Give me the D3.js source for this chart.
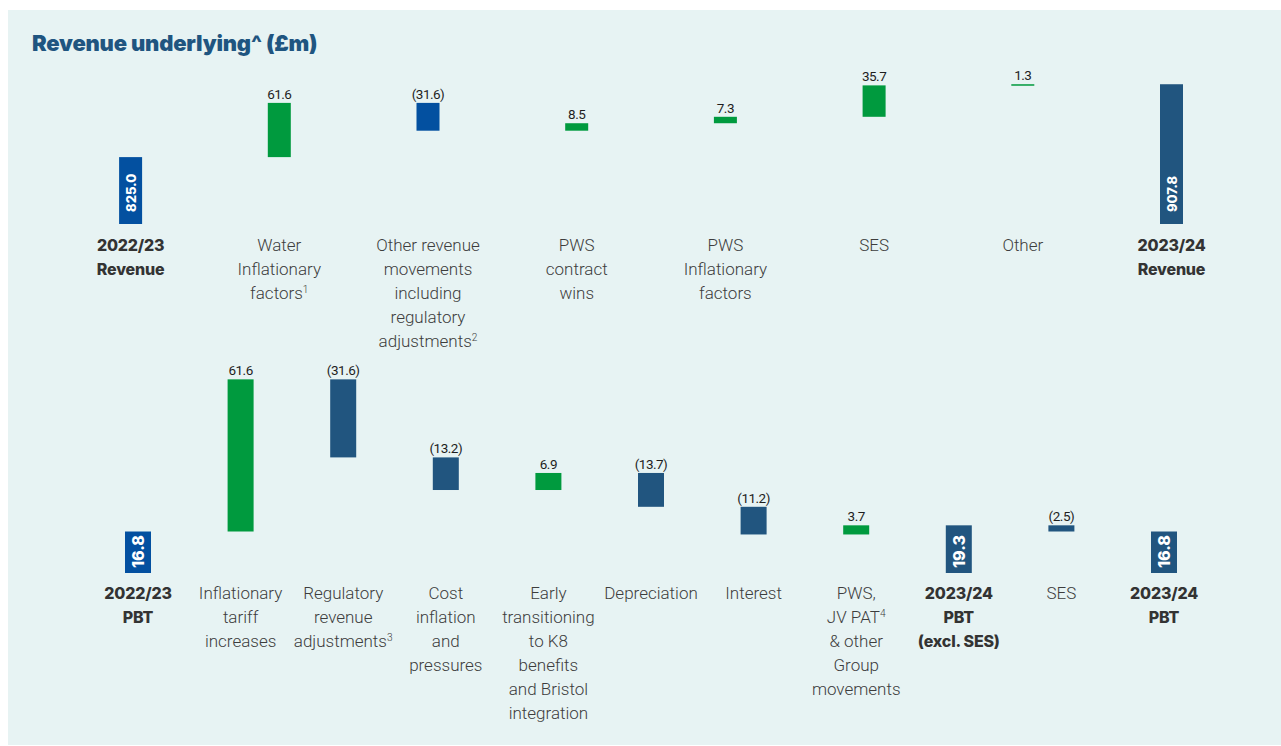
<!DOCTYPE html>
<html>
<head>
<meta charset="utf-8">
<script src="https://cdn.jsdelivr.net/npm/d3@7"></script>
<style>
  body { margin: 0; background: #ffffff; }
  svg { display: block; }
</style>
</head>
<body>
<svg id="chart" width="1281" height="746"></svg>
<script>
// ---- Revenue bridge (£m) ----
const revenueLabels = [
  ["2022/23", "Revenue"],
  ["Water", "Inflationary", "factors¹"],
  ["Other revenue", "movements", "including", "regulatory", "adjustments²"],
  ["PWS", "contract", "wins"],
  ["PWS", "Inflationary", "factors"],
  ["SES"],
  ["Other"],
  ["2023/24", "Revenue"]
];
const revenueValues = [825.0, 61.6, -31.6, 8.5, 7.3, 35.7, 1.3, 907.8];
const revenueKinds  = ["total", "delta", "delta", "delta", "delta", "delta", "delta", "total"];

// ---- PBT bridge (£m) ----
const pbtLabels = [
  ["2022/23", "PBT"],
  ["Inflationary", "tariff", "increases"],
  ["Regulatory", "revenue", "adjustments³"],
  ["Cost", "inflation", "and", "pressures"],
  ["Early", "transitioning", "to K8", "benefits", "and Bristol", "integration"],
  ["Depreciation"],
  ["Interest"],
  ["PWS,", "JV PAT⁴", "& other", "Group", "movements"],
  ["2023/24", "PBT", "(excl. SES)"],
  ["SES"],
  ["2023/24", "PBT"]
];
const pbtValues = [16.8, 61.6, -31.6, -13.2, 6.9, -13.7, -11.2, 3.7, 19.3, -2.5, 16.8];
const pbtKinds  = ["total", "delta", "delta", "delta", "delta", "delta", "delta", "delta", "total", "delta", "total"];

const C = {
  panel: "#e7f3f3",
  title: "#1f5580",
  blue: "#0350a0",
  navy: "#21557f",
  green: "#009a3e",
  label: "#3d3d3d",
  bold: "#333333",
  value: "#1e1e1e"
};

const svg = d3.select("#chart");

svg.append("rect")
  .attr("x", 8).attr("y", 10)
  .attr("width", 1273).attr("height", 735)
  .attr("fill", C.panel);

svg.append("text")
  .attr("x", 32).attr("y", 51)
  .attr("font-family", "Inter, 'Open Sans', sans-serif")
  .attr("font-weight", 900)
  .attr("font-size", 22)
  .attr("letter-spacing", -0.2)
  .attr("fill", C.title)
  .text("Revenue underlying^ (£m)");

const fmt = d3.format(".1f");
const supMap = { "¹": "1", "²": "2", "³": "3", "⁴": "4" };

// Build running waterfall segments from totals and deltas
function waterfall(values, kinds) {
  let running = null;
  return values.map((v, i) => {
    if (kinds[i] === "total") {
      running = v;
      return { i, v, kind: "total", from: null, to: v };
    }
    const from = running, to = running + v;
    running = to;
    return { i, v, kind: "delta", from, to };
  });
}

function writeLine(textSel, line) {
  // trailing footnote markers become raised small digits
  const m = line.match(/^(.*?)([¹²³⁴]*)$/);
  textSel.append("tspan").text(m[1]);
  if (m[2]) {
    textSel.append("tspan")
      .attr("font-size", "0.6em")
      .attr("dy", "-0.6em")
      .text(m[2].split("").map(c => supMap[c]).join(""));
  }
}

function drawBridge(opt) {
  const g = svg.append("g");
  const keys = opt.labels.map((d, i) => i);
  const x = d3.scalePoint().domain(keys).range(opt.xRange);
  const y = d3.scaleLinear().domain(opt.yDomain).range(opt.yRange);
  const segs = waterfall(opt.values, opt.kinds);
  const w = opt.barWidth;

  const colorOf = (d) => {
    if (d.kind === "total") return d.i === 0 ? C.blue : C.navy;
    return d.v >= 0 ? C.green : opt.negColor;
  };

  g.selectAll("rect.bar").data(segs).join("rect")
    .attr("class", "bar")
    .attr("x", d => x(d.i) - w / 2)
    .attr("width", w)
    .attr("y", d => d.kind === "total" ? y(d.to) : y(Math.max(d.from, d.to)))
    .attr("height", d => d.kind === "total"
      ? y(opt.yDomain[0]) - y(d.to)
      : Math.max(1.5, Math.abs(y(d.from) - y(d.to))))
    .attr("fill", colorOf);

  // value labels above change bars
  g.selectAll("text.val").data(segs.filter(d => d.kind === "delta")).join("text")
    .attr("class", "val")
    .attr("x", d => x(d.i))
    .attr("y", d => y(Math.max(d.from, d.to)) - 4)
    .attr("text-anchor", "middle")
    .attr("font-family", "Roboto, sans-serif")
    .attr("font-size", 13.5)
    .attr("letter-spacing", -0.5)
    .attr("fill", C.value)
    .text(d => d.v < 0 ? `(${fmt(-d.v)})` : fmt(d.v));

  // totals written vertically inside their bars
  g.selectAll("text.tot").data(segs.filter(d => d.kind === "total")).join("text")
    .attr("class", "tot")
    .attr("transform", d => `translate(${x(d.i)},${y(opt.yDomain[0]) - opt.totalInset}) rotate(-90)`)
    .attr("text-anchor", "start")
    .attr("dominant-baseline", "central")
    .attr("font-family", "Inter, sans-serif")
    .attr("font-weight", 800)
    .attr("font-size", opt.totalSize)
    .attr("fill", "#ffffff")
    .text(d => fmt(d.v));

  // category labels
  opt.labels.forEach((lines, i) => {
    const isTotal = opt.kinds[i] === "total";
    lines.forEach((line, k) => {
      const t = g.append("text")
        .attr("x", x(i))
        .attr("y", opt.labelY + k * 24)
        .attr("text-anchor", "middle")
        .attr("font-family", isTotal ? "Inter, sans-serif" : "Roboto, sans-serif")
        .attr("font-weight", isTotal ? 800 : 300)
        .attr("font-size", isTotal ? 16 : 17)
        .attr("letter-spacing", isTotal ? -0.2 : 0)
        .attr("fill", isTotal ? C.bold : C.label);
      writeLine(t, line);
    });
  });
}

drawBridge({
  labels: revenueLabels, values: revenueValues, kinds: revenueKinds,
  xRange: [130.6, 1171.5], yDomain: [749, 910], yRange: [224, 82.3],
  barWidth: 23, negColor: C.blue, totalInset: 12, totalSize: 13, labelY: 251
});

drawBridge({
  labels: pbtLabels, values: pbtValues, kinds: pbtKinds,
  xRange: [138, 1164], yDomain: [0, 80], yRange: [573, 375.4],
  barWidth: 26, negColor: C.navy, totalInset: 5, totalSize: 16, labelY: 599
});
</script>
</body>
</html>
